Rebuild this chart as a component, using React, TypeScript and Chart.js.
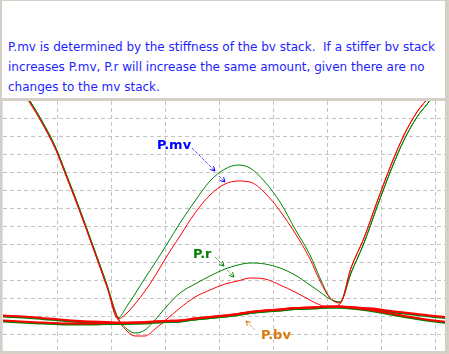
import React, { useEffect, useRef } from 'react';
import { Chart, registerables } from 'chart.js';

Chart.register(...registerables);

// Sample positions along the horizontal axis (arbitrary units, one grid column = 54)
const xs = [0, 27, 39, 52, 62, 77, 89, 104, 115, 124, 132, 142, 152, 164, 177, 192, 207, 222, 235, 247, 262, 277, 292, 307, 317, 327, 337, 348, 361, 374, 388, 401, 414, 427, 443];

// P.mv (stiffer bv stack = green, original = red)
const pmvGreen = [291, 250, 230, 205, 180, 141, 108, 66, 33, 45, 57, 73, 88, 107, 128, 150, 170, 182, 186, 183, 169, 149, 122, 96, 73, 53, 49, 78, 108, 144, 181, 211, 234, 251, 281];
const pmvRed = [289, 248, 228, 203, 178, 139, 106, 64, 32, 38, 47, 60, 75, 95, 115, 138, 156, 167, 170, 169, 158, 140, 118, 92, 70, 53, 48, 83, 113, 149, 186, 216, 239, 256, 286];

// P.r
const prGreen = [291, 250, 230, 205, 180, 141, 108, 66, 33, 22, 18, 21, 31, 45, 58, 67, 75, 82, 86, 88, 87, 83, 76, 66, 59, 52, 49, 78, 108, 144, 181, 211, 234, 251, 281];
const prRed = [289, 248, 228, 203, 178, 139, 106, 64, 32, 20, 15, 15, 22, 32, 43, 54, 61, 67, 70, 73, 72, 66, 59, 51, 46, 44, 47, 83, 113, 149, 186, 216, 239, 256, 286];

// P.bv (two slowly varying traces, each in both colours)
const bvRed1 = [35.5, 34, 33, 32, 31, 30, 29.5, 29, 28.5, 28.5, 28.5, 29, 29.5, 30, 30.5, 32.5, 34, 35.5, 37, 39, 40.5, 41.5, 43, 43.5, 44, 44.5, 44.5, 44, 43, 42, 40, 38.5, 37, 35.5, 34];
const bvGreen1 = [34.5, 33, 32, 31, 30, 29, 28.5, 28, 27.5, 27.5, 27.5, 28, 28.5, 29, 29.5, 31.5, 33, 34.5, 36, 38, 39.5, 40.5, 42, 42.5, 43, 43.5, 43.5, 43, 42, 41, 39, 37.5, 36, 34.5, 33];
const bvRed2 = [30.5, 29, 28.5, 28, 27.5, 27.5, 27.5, 28, 28, 28, 28.5, 28.5, 29.5, 30, 30.5, 32.5, 34, 35.5, 37, 39, 40.5, 41.5, 43, 43.5, 44, 44.5, 44.5, 43.5, 42, 40, 37.5, 35, 33, 31, 29];
const bvGreen2 = [29.5, 28, 27.5, 27, 26.5, 26.5, 26.5, 27, 27, 27, 27.5, 27.5, 28.5, 29, 29.5, 31.5, 33, 34.5, 36, 38, 39.5, 40.5, 42, 42.5, 43, 43.5, 43.5, 42.5, 41, 39, 36.5, 34, 32, 30, 28];

// Grid positions
const xGrid = [54, 108, 162, 216, 270, 324, 378, 432];
const yGrid = [16.7, 34.7, 52.7, 70.7, 88.7, 106.7, 124.7, 142.7, 160.7, 178.7, 196.7, 214.7, 232.7];
const X_MAX = 442;
const Y_MAX = 250;

const noteLines = [
  'P.mv is determined by the stiffness of the bv stack.  If a stiffer bv stack',
  'increases P.mv, P.r will increase the same amount, given there are no',
  'changes to the mv stack.',
];

const BLUE = '#0000ff';
const GREEN = '#008000';
const RED = '#ff0000';
const ORANGE = '#e07810';

const labelNotes = [
  { text: 'P.mv', x: 154, y: 202, color: BLUE },
  { text: 'P.r', x: 190, y: 93, color: GREEN },
  { text: 'P.bv', x: 258, y: 12, color: ORANGE },
];

const arrowNotes = [
  { x1: 189, y1: 203, x2: 212, y2: 180, color: BLUE },
  { x1: 216, y1: 175, x2: 222, y2: 169, color: BLUE },
  { x1: 212, y1: 94, x2: 221, y2: 85, color: GREEN },
  { x1: 224, y1: 81, x2: 231, y2: 74, color: GREEN },
  { x1: 252, y1: 21, x2: 243, y2: 30, color: ORANGE },
];

const toPoints = (ys: number[]) => ys.map((y, i) => ({ x: xs[i], y }));

const annotationPlugin = {
  id: 'notes',
  afterDatasetsDraw(chart: any) {
    const { ctx, scales } = chart;
    const sx = scales.x;
    const sy = scales.y;
    ctx.save();
    arrowNotes.forEach((a) => {
      const x1 = sx.getPixelForValue(a.x1);
      const y1 = sy.getPixelForValue(a.y1);
      const x2 = sx.getPixelForValue(a.x2);
      const y2 = sy.getPixelForValue(a.y2);
      ctx.strokeStyle = a.color;
      ctx.lineWidth = 1;
      ctx.setLineDash([1, 1]);
      ctx.beginPath();
      ctx.moveTo(x1, y1);
      ctx.lineTo(x2, y2);
      ctx.stroke();
      ctx.setLineDash([]);
      const ang = Math.atan2(y2 - y1, x2 - x1);
      const len = 5;
      ctx.beginPath();
      ctx.moveTo(x2 - len * Math.cos(ang - 0.5), y2 - len * Math.sin(ang - 0.5));
      ctx.lineTo(x2, y2);
      ctx.lineTo(x2 - len * Math.cos(ang + 0.5), y2 - len * Math.sin(ang + 0.5));
      ctx.stroke();
    });
    ctx.font = 'bold 13px "DejaVu Sans"';
    ctx.textBaseline = 'alphabetic';
    labelNotes.forEach((l) => {
      ctx.fillStyle = l.color;
      ctx.fillText(l.text, sx.getPixelForValue(l.x), sy.getPixelForValue(l.y));
    });
    ctx.restore();
  },
};

export default function App() {
  const ref = useRef<HTMLCanvasElement>(null);

  useEffect(() => {
    if (!ref.current) return;
    const line = (label: string, data: number[], color: string, width: number, order: number) => ({
      label,
      data: toPoints(data),
      borderColor: color,
      backgroundColor: color,
      borderWidth: width,
      pointRadius: 0,
      fill: false,
      cubicInterpolationMode: 'monotone' as const,
      order,
    });
    const chart = new Chart(ref.current, {
      type: 'line',
      data: {
        datasets: [
          line('P.bv red 1', bvRed1, RED, 2, 0),
          line('P.bv red 2', bvRed2, RED, 2, 1),
          line('P.bv green 1', bvGreen1, GREEN, 2, 2),
          line('P.bv green 2', bvGreen2, GREEN, 2, 3),
          line('P.mv red', pmvRed, RED, 1, 4),
          line('P.r red', prRed, RED, 1, 5),
          line('P.mv green', pmvGreen, GREEN, 1, 6),
          line('P.r green', prGreen, GREEN, 1, 7),
        ],
      },
      options: {
        animation: false,
        responsive: false,
        devicePixelRatio: 1,
        layout: { padding: 0 },
        plugins: { legend: { display: false }, tooltip: { enabled: false } },
        events: [],
        scales: {
          x: {
            type: 'linear',
            min: 0,
            max: X_MAX,
            afterBuildTicks: (axis: any) => {
              axis.ticks = xGrid.map((v) => ({ value: v }));
            },
            ticks: { display: false },
            grid: { color: '#c4c4c4', drawTicks: false, lineWidth: 1 },
            border: { display: false, dash: [4, 3] },
          },
          y: {
            type: 'linear',
            min: 0,
            max: Y_MAX,
            afterBuildTicks: (axis: any) => {
              axis.ticks = yGrid.map((v) => ({ value: v }));
            },
            ticks: { display: false },
            grid: { color: '#c4c4c4', drawTicks: false, lineWidth: 1 },
            border: { display: false, dash: [4, 3] },
          },
        },
      },
      plugins: [annotationPlugin],
    });
    return () => chart.destroy();
  }, []);

  return (
    <div style={{ position: 'absolute', left: 0, top: 0, width: 449, height: 354, background: '#d4d0c8', overflow: 'hidden' }}>
      <div style={{ position: 'absolute', left: 2, top: 1, width: 443, height: 97, background: '#ffffff' }}>
        <div
          style={{
            position: 'absolute',
            left: 6,
            top: 36,
            fontFamily: '"DejaVu Sans", sans-serif',
            fontSize: 12,
            lineHeight: '20px',
            color: '#1e1eff',
            whiteSpace: 'pre',
          }}
        >
          {noteLines.join('\n')}
        </div>
      </div>
      <div style={{ position: 'absolute', left: 2, top: 101, width: 443, height: 250, background: '#ffffff' }}>
        <div style={{ position: 'absolute', left: 0, top: 0, width: 1, height: 250, background: '#e2e0da' }} />
        <canvas ref={ref} width={442} height={250} style={{ position: 'absolute', left: 1, top: 0, width: 442, height: 250 }} />
      </div>
    </div>
  );
}
